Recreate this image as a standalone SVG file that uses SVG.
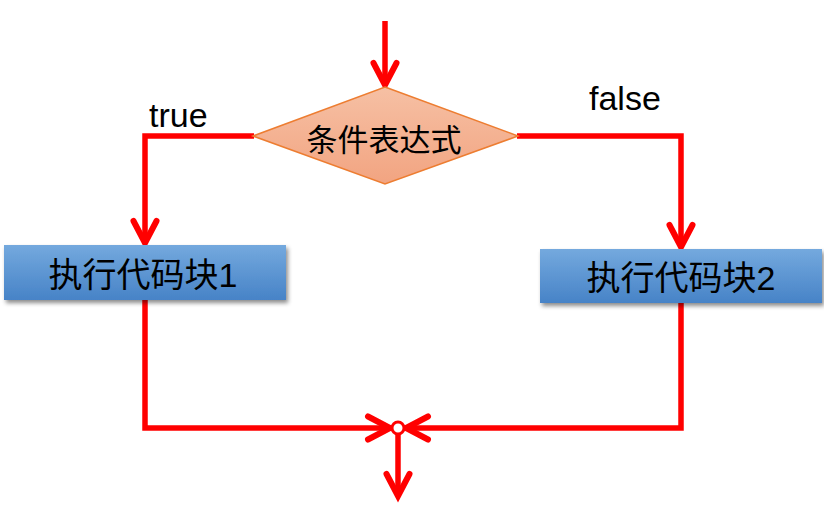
<svg xmlns="http://www.w3.org/2000/svg" width="824" height="513" viewBox="0 0 824 513">
<style>
.conn{fill:none;stroke:#ff0000;stroke-width:5.5;stroke-linejoin:miter}
.lbl{font-family:"Liberation Sans",Arial,sans-serif;font-size:34px;fill:#000}
.cjk{font-family:"Liberation Sans","Noto Sans CJK SC",sans-serif;fill:#000;text-anchor:middle;dominant-baseline:central}
.box{fill:url(#blue);filter:url(#shadow)}
</style>
<defs>
<linearGradient id="blue" x1="0" y1="0" x2="0" y2="1">
<stop offset="0" stop-color="#74a9de"/>
<stop offset="1" stop-color="#4783c7"/>
</linearGradient>
<linearGradient id="orange" x1="0" y1="0" x2="0" y2="1">
<stop offset="0" stop-color="#f6c0a4"/>
<stop offset="1" stop-color="#f2a481"/>
</linearGradient>
<filter id="shadow" x="-10%" y="-30%" width="120%" height="170%">
<feDropShadow dx="2" dy="3" stdDeviation="2" flood-color="#000" flood-opacity="0.45"/>
</filter>
<marker id="arr" markerUnits="userSpaceOnUse" markerWidth="40" markerHeight="40" refX="0" refY="0" orient="auto" overflow="visible">
<path d="M-22,-11.5 L0,0 L-22,11.5" fill="none" stroke="#ff0000" stroke-width="6" stroke-linecap="round" stroke-linejoin="miter"/>
</marker>
</defs>

<g id="connectors">
<path class="conn" d="M385,21 V85" marker-end="url(#arr)"/>
<path class="conn" d="M254,136 H145 V243" marker-end="url(#arr)"/>
<path class="conn" d="M517,136 H681 V247" marker-end="url(#arr)"/>
<path class="conn" d="M145,300 V428 H390" marker-end="url(#arr)"/>
<path class="conn" d="M681,303 V428 H406" marker-end="url(#arr)"/>
<path class="conn" d="M398,434 V496" marker-end="url(#arr)"/>
</g>

<g id="label-true"><text class="lbl" x="149" y="127">true</text></g>
<g id="label-false"><text class="lbl" x="589" y="110">false</text></g>

<g id="decision">
<polygon points="385,87 518,136 385,184 253,136" fill="url(#orange)" stroke="#ed7d31" stroke-width="1.5"/>
<text class="cjk" x="384" y="140" font-size="31">条件表达式</text>
</g>

<g id="block1">
<rect class="box" x="4" y="245" width="282" height="55"/>
<text class="cjk" x="143" y="275" font-size="34">执行代码块1</text>
</g>

<g id="block2">
<rect class="box" x="540" y="249" width="282" height="54"/>
<text class="cjk" x="681" y="278" font-size="34">执行代码块2</text>
</g>

<g id="merge">
<circle cx="398" cy="428" r="6" fill="#fff" stroke="#ff0000" stroke-width="3"/>
</g>
</svg>
